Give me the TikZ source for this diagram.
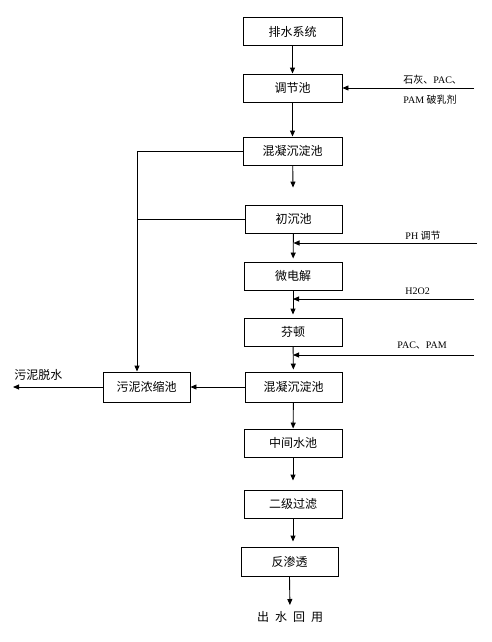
\documentclass[tikz,border=0pt]{standalone}
\usepackage{fontspec}
\setmainfont{Liberation Serif}
\newfontfamily\cjk{Noto Sans CJK SC}
\usetikzlibrary{positioning,arrows.meta}

\begin{document}
\begin{tikzpicture}[
    x=1pt, y=-1pt,
    >={Triangle[length=6pt,width=5pt]},
    line width=0.9pt,
    stage/.style={rectangle, draw, fill=white, minimum width=99pt, minimum height=28pt, inner sep=0pt, font=\cjk\fontsize{12}{12}\selectfont},
    dose/.style={anchor=west, inner sep=0pt, font=\fontsize{10}{10}\selectfont},
    note/.style={inner sep=0pt, font=\cjk\fontsize{12}{12}\selectfont}
]
\useasboundingbox (0,0) rectangle (492,642);

% Main line
\node[stage] (drain) at (292.5,31.5) {排水系统};
\node[stage] (adjust) at (292.5,88) {调节池};
\node[stage] (coagA) at (292.5,151) {混凝沉淀池};
\node[stage, minimum width=97pt] (prim) at (293.5,219) {初沉池};
\node[stage, minimum width=98pt] (micro) at (293,276) {微电解};
\node[stage, minimum width=98pt] (fenton) at (293,332) {芬顿};
\node[stage, minimum width=97pt, minimum height=30pt] (coagB) at (293.5,387) {混凝沉淀池};
\node[stage, minimum width=98pt] (mid) at (293,443) {中间水池};
\node[stage, minimum width=98pt] (filt) at (293,504) {二级过滤};
\node[stage, minimum width=97pt, minimum height=29pt] (ro) at (289.5,561.5) {反渗透};
\node[note] (reuse) at (290,617) {出\hspace{6pt}水\hspace{6pt}回\hspace{6pt}用};

\draw[->] (drain) -- (adjust);
\draw[->] (adjust) -- (coagA);
\draw[->, shorten >=17pt] (coagA) -- (prim);
\draw[->, shorten >=3pt] (prim) -- (micro);
\draw[->, shorten >=3pt] (micro) -- (fenton);
\draw[->, shorten >=2pt] (fenton) -- (coagB);
\draw[->] (coagB) -- (mid);
\draw[->, shorten >=9pt] (mid) -- (filt);
\draw[->, shorten >=5pt] (filt.south) -- (filt.south |- ro.north);
\draw[->, shorten >=6pt] (ro.south) -- (reuse.north);

% Dosing
\coordinate (limein) at (474,88);
\draw[->] (limein) -- (adjust.east);
\node[dose] (limelbl) at (403,80) {{\cjk 石灰、}PAC{\cjk 、}};
\node[dose] (pamlbl) at (403,100) {PAM {\cjk 破乳剂}};

\coordinate (phin) at (477,243);
\draw[->] (phin) -- (phin -| prim.south);
\node[dose] (phlbl) at (405,236) {PH {\cjk 调节}};

\coordinate (hpin) at (474,299);
\draw[->] (hpin) -- (hpin -| micro.south);
\node[dose] (hplbl) at (405,291) {H2O2};

\coordinate (pacin) at (474,355);
\draw[->] (pacin) -- (pacin -| fenton.south);
\node[dose] (paclbl) at (397,345) {PAC{\cjk 、}PAM};

% Sludge
\node[stage, minimum width=87pt, minimum height=30pt] (thick) at (146.5,387) {污泥浓缩池};
\coordinate (split) at (137,151);
\draw[->] (coagA.west) -- (split) -- (split |- thick.north);
\draw (prim.west) -- (prim.west -| split);
\draw[->] (coagB.west) -- (thick.east);
\coordinate (sludgeout) at (13,387);
\draw[->] (thick.west) -- (sludgeout);
\node[note, anchor=west] (dewater) at (14,375) {污泥脱水};
\end{tikzpicture}
\end{document}
